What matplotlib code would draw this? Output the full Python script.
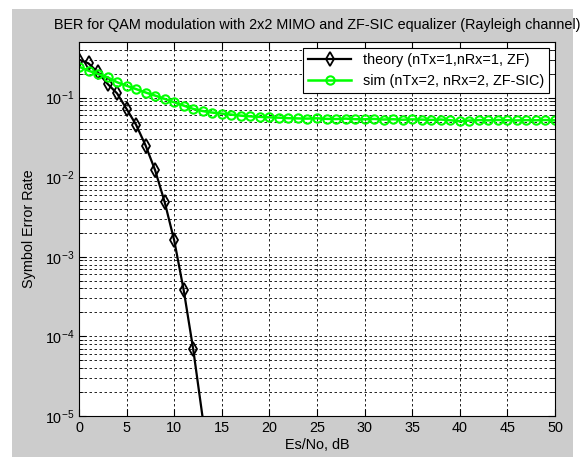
import numpy as np
import matplotlib
matplotlib.use('Agg')
from matplotlib import pyplot as plt
from matplotlib.patches import Rectangle
from matplotlib.ticker import LogLocator, NullFormatter, MultipleLocator

plt.rcParams['font.family'] = ['Liberation Sans', 'DejaVu Sans']
plt.rcParams['mathtext.default'] = 'regular'

# theory curve (nTx=1, nRx=1, ZF)
theory_snr = [0, 1, 2, 3, 4, 5, 6, 7, 8, 9, 10, 11, 12, 13]
theory_ser = [0.30, 0.269, 0.207, 0.149, 0.113, 0.0721, 0.0455, 0.0250,
              0.0122, 0.00487, 0.00161, 3.8e-4, 6.86e-5, 9.3e-6]

# simulated curve (nTx=2, nRx=2, ZF-SIC)
sim_snr = list(range(51))
sim_ser = [0.245, 0.218, 0.198, 0.180, 0.156, 0.141, 0.128, 0.116, 0.106, 0.0963,
           0.0873, 0.0794, 0.0722, 0.0678, 0.0649, 0.0630, 0.0612, 0.0594, 0.0581, 0.0573,
           0.0565, 0.0560, 0.0552, 0.0548, 0.0545, 0.0550, 0.0541, 0.0538, 0.0545, 0.0536,
           0.0534, 0.0540, 0.0531, 0.0535, 0.0528, 0.0533, 0.0530, 0.0525, 0.0531, 0.0520,
           0.0505, 0.0515, 0.0522, 0.0518, 0.0524, 0.0520, 0.0517, 0.0521, 0.0519, 0.0523,
           0.0518]

fig = plt.figure(figsize=(5.84, 4.57), dpi=100, facecolor='white')
fig.patches.append(Rectangle((12/584, 0), 561/584, 1 - 9/457, transform=fig.transFigure,
                             facecolor='#cccccc', edgecolor='none', zorder=-10))
ax = fig.add_axes([79/584, 41/457, 476/584, 374/457])
ax.set_facecolor('white')

ax.semilogy(theory_snr, theory_ser, color='k', lw=1.6, marker='d', ms=7, mfc='none',
            mew=1.3, markevery=list(range(13)), label='theory (nTx=1,nRx=1, ZF)')
ax.semilogy(sim_snr, sim_ser, color='#00ff00', lw=1.8, marker='o', ms=6, mfc='none',
            mew=1.5, label='sim (nTx=2, nRx=2, ZF-SIC)')

ax.set_xlim(0, 50)
ax.set_ylim(1e-5, 0.5)
ax.xaxis.set_major_locator(MultipleLocator(5))
ax.yaxis.set_major_locator(LogLocator(base=10, numticks=10))
ax.yaxis.set_minor_locator(LogLocator(base=10, subs=np.arange(2, 10), numticks=20))
ax.yaxis.set_minor_formatter(NullFormatter())
ax.tick_params(which='both', direction='in', top=True, right=True, labelsize=10.4)
ax.tick_params(which='major', length=5)
ax.tick_params(which='minor', length=3)
ax.grid(True, which='both', color='k', lw=0.6, ls=(0, (3, 3)))
ax.grid(False, which='minor', axis='x')

ax.set_xlabel('Es/No, dB', fontsize=10.4, labelpad=2)
ax.set_ylabel('Symbol Error Rate', fontsize=10.4, labelpad=6)
ax.set_title('BER for QAM modulation with 2x2 MIMO and ZF-SIC equalizer (Rayleigh channel)',
             fontsize=10.4, pad=9)

leg = ax.legend(loc='upper right', fontsize=10.4, fancybox=False, framealpha=1,
                edgecolor='k', borderaxespad=0.4, handlelength=3.0, borderpad=0.35)
leg.get_frame().set_linewidth(0.8)

fig.savefig('out.png', dpi=100, facecolor=fig.get_facecolor())
